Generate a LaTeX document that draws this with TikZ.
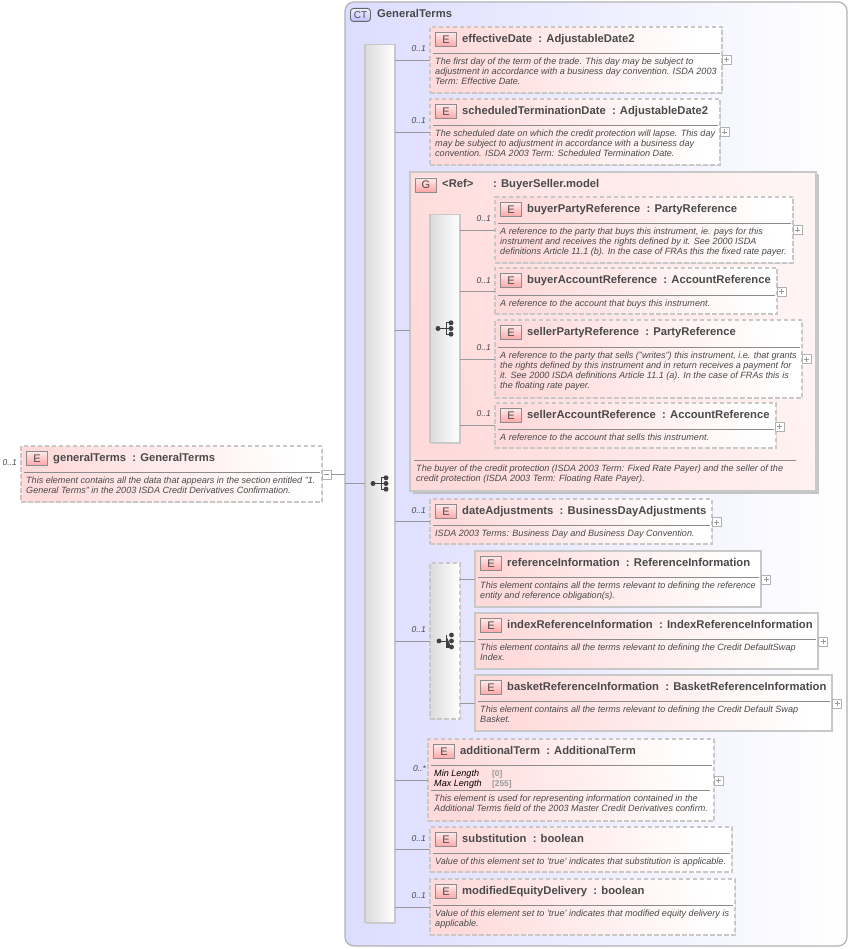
\documentclass[tikz,border=0pt]{standalone}
\usepackage{fontspec}
\setmainfont{Liberation Sans}
\usetikzlibrary{shadows,calc}
\definecolor{txt}{HTML}{4A4A4A}
\definecolor{edgeg}{HTML}{C8C8C8}
\definecolor{pinkl}{HTML}{FFDADA}
\definecolor{bluel}{HTML}{DCDCFF}
\newcommand{\dfont}{\fontsize{9.08}{10}\selectfont\itshape}
\newcommand{\tfont}{\fontsize{11.25}{13}\selectfont\bfseries}
\tikzset{
  x=1pt,y=-1pt,
  conn/.style={draw=black!40,line width=.6pt},
  eshade/.style={left color=pinkl,right color=white,shading angle=105},
  ebox/.style={draw=edgeg,line width=1.1pt,dashed,dash pattern=on 4.5pt off 2.5pt,eshade,inner sep=0pt,outer sep=0pt,anchor=north west,
    drop shadow={shadow xshift=1.2pt,shadow yshift=-1.2pt,fill=black!16,opacity=.8,draw=none}},
  sbox/.style={ebox,solid},
  badge/.style={draw=black!45,line width=.9pt,top color=pinkl!60,bottom color=red!35!white,inner sep=0pt,outer sep=0pt,anchor=north west,minimum width=21pt,minimum height=14pt,font=\fontsize{11}{13}\selectfont,text=txt},
  eltitle/.style={anchor=base west,inner sep=0pt,font=\tfont,text=txt},
  desc/.style={anchor=north west,inner sep=0pt,align=left,font=\dfont,text=txt},
  rule/.style={draw=black!45,line width=.7pt},
  plusb/.style={draw=black!30,line width=.6pt,fill=white,inner sep=0pt,outer sep=0pt,minimum size=9pt},
  plusm/.style={draw=black!40,line width=.6pt},
  mult/.style={anchor=east,inner sep=0pt,font=\fontsize{8.5}{10}\selectfont\itshape,text=txt},
  barbox/.style={draw=edgeg,line width=1.1pt,left color=black!14,right color=white,inner sep=0pt,outer sep=0pt,anchor=north west,
    drop shadow={shadow xshift=1pt,shadow yshift=-1pt,fill=black!22,opacity=.8,draw=none}},
  icon/.style={draw=black!75,fill=black!75,line width=1pt},
}
% name x1 y1 x2 y2 style liney title desc
\newcommand{\elem}[9]{%
  \node[#6,minimum width={(#4-#2)*1pt},minimum height={(#5-#3)*1pt}] (#1) at (#2,#3) {};
  \node[badge] (#1-b) at ($(#2,#3)+(5.5,5.5)$) {E};
  \node[eltitle] (#1-t) at ($(#2,#3)+(32,15.5)$) {#8};
  \draw[rule] ($(#2,#7)+(3,0)$) -- ($(#4,#7)+(-2,0)$);
  \node[desc] (#1-d) at ($(#2,#7)+(5,5)$) {#9};
}
\newcommand{\minusbox}[3]{%
  \node[plusb] (#1) at (#2,#3) {};
  \draw[plusm] ([xshift=2pt]#1.west) -- ([xshift=-2pt]#1.east);
}
\newcommand{\plusbox}[3]{%
  \minusbox{#1}{#2}{#3}
  \draw[plusm] ([yshift=-2pt]#1.north) -- ([yshift=2pt]#1.south);
}
% bar box yc
\newcommand{\conn}[3]{%
  \coordinate (#2-c) at (#2.west |- 0,#3);
  \draw[conn] (#1.east |- #2-c) -- (#2-c);
}
\newcommand{\mul}[4]{\node[mult] (#1) at (#2,#3) {#4};}
\newcommand{\seqicon}[3]{%
  \begin{scope}[shift={(#2,#3)}]
    \draw[icon] (-7,0) -- (1,0) (1,-5.7) -- (1,5.7) (1,-5.7) -- (6,-5.7) (1,5.7) -- (6,5.7) (1,0) -- (6,0);
    \fill[icon,draw=none] (-7,0) circle (2.5) (6,-5.7) circle (2.5) (6,0) circle (2.5) (6,5.7) circle (2.5);
  \end{scope}
}
\newcommand{\choiceicon}[2]{%
  \begin{scope}[shift={(#1,#2)}]
    \draw[icon] (-6,0) -- (1,0) (1,-6) -- (1,6) -- (6,6);
    \fill[icon,draw=none] (-6,0) circle (2.4) (6.5,-6) circle (2.4) (6.5,0) circle (2.4) (6.5,6) circle (2.4);
  \end{scope}
}
\begin{document}
\begin{tikzpicture}
\useasboundingbox (0,0) rectangle (850,949);
% complex type panel
\node[draw=black!30,line width=1.2pt,rounded corners=9pt,left color=bluel,right color=white,inner sep=0pt,outer sep=0pt,anchor=north west,minimum width=502pt,minimum height=944pt] (ct) at (345,2) {};
\node[draw=black!60,line width=.9pt,rounded corners=3pt,top color=bluel!50,bottom color=blue!25!white,inner sep=0pt,anchor=north west,minimum width=20pt,minimum height=13pt,font=\fontsize{10}{12}\selectfont,text=txt] (ctb) at (350,8) {CT};
\node[eltitle] (ctt) at (377,17.5) {GeneralTerms};
% main sequence bar
\node[barbox,minimum width=30pt,minimum height=878pt] (bar) at (365,44.5) {};
\seqicon{i1}{380}{483.5}
% root
\elem{root}{21}{446}{322}{502}{ebox}{472}{generalTerms\ \ : GeneralTerms}{This element contains all the data that appears in the section entitled "1.\\General Terms" in the 2003 ISDA Credit Derivatives Confirmation.}
\mul{m0}{17}{463}{0..1}
\minusbox{p0}{326.5}{474.5}
\coordinate (j0) at (345,474.5);
\draw[conn] (p0.east) -- (j0);
\coordinate (j1) at (345,483);
\draw[conn] (j1) -- (bar.west |- j1);
% elements
\elem{eff}{430}{27}{722}{93}{ebox}{53}{effectiveDate\ \ : AdjustableDate2}{The first day of the term of the trade. This day may be subject to\\adjustment in accordance with a business day convention. ISDA 2003\\Term: Effective Date.}
\conn{bar}{eff}{60}\mul{m1}{426}{49}{0..1}\plusbox{p1}{726.5}{59.5}
\elem{sch}{430}{99}{720}{165}{ebox}{125}{scheduledTerminationDate\ \ : AdjustableDate2}{The scheduled date on which the credit protection will lapse. This day\\may be subject to adjustment in accordance with a business day\\convention. ISDA 2003 Term: Scheduled Termination Date.}
\conn{bar}{sch}{132}\mul{m2}{426}{121}{0..1}\plusbox{p2}{724.5}{132}
% group
\node[draw=edgeg,line width=1.2pt,left color=pinkl,right color=pinkl!30,shading angle=105,inner sep=0pt,outer sep=0pt,anchor=north west,minimum width=406pt,minimum height=319pt,drop shadow={shadow xshift=2.5pt,shadow yshift=-2.5pt,fill=black!28,opacity=.8,draw=none}] (grp) at (410,172) {};
\node[badge] (grpb) at (415.5,178) {G};
\node[eltitle] (grpr) at (442,187.5) {<Ref>};
\node[eltitle] (grpt) at (493,187.5) {: BuyerSeller.model};
\coordinate (grp-c) at (410,330);
\draw[conn] (bar.east |- grp-c) -- (grp-c);
\node[barbox,minimum width=30pt,minimum height=228pt] (bar2) at (430,214.5) {};
\seqicon{i2}{445}{328.5}
\elem{bpr}{495}{197}{793}{263}{ebox}{223}{buyerPartyReference\ \ : PartyReference}{A reference to the party that buys this instrument, ie. pays for this\\instrument and receives the rights defined by it. See 2000 ISDA\\definitions Article 11.1 (b). In the case of FRAs this the fixed rate payer.}
\conn{bar2}{bpr}{230}\mul{m3}{491}{219}{0..1}\plusbox{p3}{797.5}{230}
\elem{bar3}{495}{268}{777}{314}{ebox}{295}{buyerAccountReference\ \ : AccountReference}{A reference to the account that buys this instrument.}
\conn{bar2}{bar3}{291}\mul{m4}{491}{281}{0..1}\plusbox{p4}{781.5}{291.5}
\elem{spr}{495}{320}{802}{398}{ebox}{347}{sellerPartyReference\ \ : PartyReference}{A reference to the party that sells ("writes") this instrument, i.e. that grants\\the rights defined by this instrument and in return receives a payment for\\it. See 2000 ISDA definitions Article 11.1 (a). In the case of FRAs this is\\the floating rate payer.}
\conn{bar2}{spr}{359}\mul{m5}{491}{348}{0..1}\plusbox{p5}{806.5}{359}
\elem{sar}{495}{403}{776}{448}{ebox}{429}{sellerAccountReference\ \ : AccountReference}{A reference to the account that sells this instrument.}
\conn{bar2}{sar}{425}\mul{m6}{491}{414}{0..1}\plusbox{p6}{779.5}{426.5}
\coordinate (gl1) at (414,460);
\coordinate (gl2) at (796,460);
\draw[rule] (gl1) -- (gl2);
\node[desc] (grpd) at (416,465) {The buyer of the credit protection (ISDA 2003 Term: Fixed Rate Payer) and the seller of the\\credit protection (ISDA 2003 Term: Floating Rate Payer).};
% dateAdjustments
\elem{dat}{430}{499}{712}{544}{ebox}{525}{dateAdjustments\ \ : BusinessDayAdjustments}{ISDA 2003 Terms: Business Day and Business Day Convention.}
\conn{bar}{dat}{521}\mul{m7}{426}{511}{0..1}\plusbox{p7}{716.5}{522}
% choice
\node[barbox,dashed,dash pattern=on 4.5pt off 2.5pt,minimum width=30pt,minimum height=156pt] (cho) at (430,563) {};
\choiceicon{445}{641}
\coordinate (cho-c) at (430,641);
\draw[conn] (bar.east |- cho-c) -- (cho-c);
\mul{m8}{426}{630}{0..1}
\elem{ref}{475}{551}{761}{607}{sbox}{577}{referenceInformation\ \ : ReferenceInformation}{This element contains all the terms relevant to defining the reference\\entity and reference obligation(s).}
\conn{cho}{ref}{579}\plusbox{p9}{766}{579.5}
\elem{idx}{475}{613}{818}{669}{sbox}{639}{indexReferenceInformation\ \ : IndexReferenceInformation}{This element contains all the terms relevant to defining the Credit DefaultSwap\\Index.}
\conn{cho}{idx}{641}\plusbox{p10}{823}{641.5}
\elem{bsk}{475}{675}{832}{731}{sbox}{701}{basketReferenceInformation\ \ : BasketReferenceInformation}{This element contains all the terms relevant to defining the Credit Default Swap\\Basket.}
\conn{cho}{bsk}{703}\plusbox{p11}{837}{703.5}
% additionalTerm
\elem{add}{428}{739}{714}{821}{ebox}{765}{additionalTerm\ \ : AdditionalTerm}{}
\node[anchor=north west,inner sep=0pt,align=left,font=\dfont,text=black] (addk) at (434,770) {Min Length\\Max Length};
\node[anchor=north west,inner sep=0pt,align=left,font=\fontsize{8.3}{10}\selectfont\bfseries,text=black!40] (addv) at (492,770) {{[0]}\\{[255]}};
\draw[rule] (431,790) -- (710,790);
\node[desc] (addd) at (434,795) {This element is used for representing information contained in the\\Additional Terms field of the 2003 Master Credit Derivatives confirm.};
\conn{bar}{add}{780}\mul{m12}{426}{769}{0..*}\plusbox{p12}{718.5}{780.5}
% substitution
\elem{sub}{430}{827}{732}{872}{ebox}{853}{substitution\ \ : boolean}{Value of this element set to 'true' indicates that substitution is applicable.}
\conn{bar}{sub}{849}\mul{m13}{426}{839}{0..1}
% modifiedEquityDelivery
\elem{med}{430}{879}{735}{935}{ebox}{905}{modifiedEquityDelivery\ \ : boolean}{Value of this element set to 'true' indicates that modified equity delivery is\\applicable.}
\conn{bar}{med}{907}\mul{m14}{426}{896}{0..1}
\end{tikzpicture}
\end{document}
